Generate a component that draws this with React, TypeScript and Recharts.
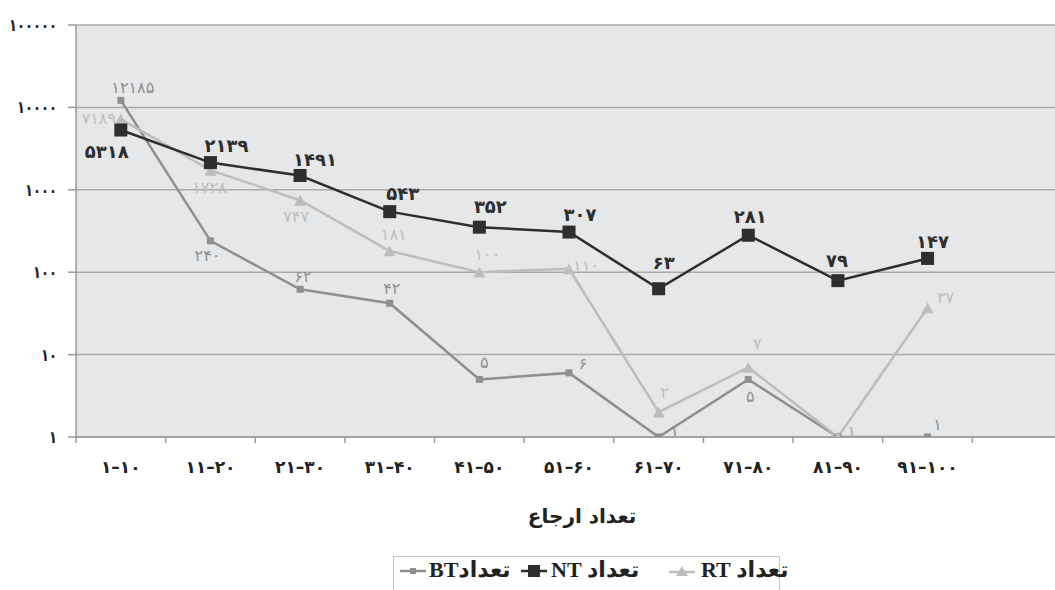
import React from "react";
import {
  ComposedChart,
  Line,
  XAxis,
  YAxis,
  CartesianGrid,
  LabelList,
} from "recharts";

const categories = [
  "1-10",
  "11-20",
  "21-30",
  "31-40",
  "41-50",
  "51-60",
  "61-70",
  "71-80",
  "81-90",
  "91-100",
];
const btValues = [12185, 240, 62, 42, 5, 6, 1, 5, 1, 1];
const ntValues = [5318, 2139, 1491, 543, 352, 307, 63, 281, 79, 147];
const rtValues = [7189, 1728, 747, 181, 100, 110, 2, 7, 1, 37];
const yTicks = [1, 10, 100, 1000, 10000, 100000];

// label nudges (dx, dy) per point, picked to sit like the original
const ntLabelPos = [
  [-14, 22], [16, -17], [15, -16], [13, -18], [11, -21],
  [11, -18], [5, -26], [2, -19], [-1, -20], [5, -17],
];
const rtLabelPos = [
  [-22, -1], [-1, 17], [-4, 16], [4, -16], [8, -18],
  [17, -3], [6, -20], [9, -24], [14, -6], [18, -10],
];
const btLabelPos = [
  [12, -13], [-3, 15], [3, -13], [2, -15], [5, -17],
  [14, -9], [16, -7], [2, 17], [14, -6], [10, -13],
];

const NT_COLOR = "#2e2e2e";
const BT_COLOR = "#8f8f8f";
const RT_COLOR = "#bdbdbd";
const FA_FONT = "'DejaVu Sans', sans-serif";

const toFa = (s: string | number) =>
  String(s)
    .replace(/\d/g, (d) => "۰۱۲۳۴۵۶۷۸۹"[+d])
    .replace("-", "–");

// extra empty slot at the right end, like the original plot
const chartData = [
  ...categories.map((range, i) => ({
    range,
    bt: btValues[i],
    nt: ntValues[i],
    rt: rtValues[i],
  })),
  { range: "", bt: null, nt: null, rt: null },
];

const squareDot = (size: number, color: string) => (props: any) => {
  const { cx, cy, index } = props;
  if (cx == null || cy == null || props.value == null)
    return <g key={`d-${index}`} />;
  return (
    <rect
      key={`d-${index}`}
      x={cx - size / 2}
      y={cy - size / 2}
      width={size}
      height={size}
      fill={color}
    />
  );
};

const triangleDot = (size: number, color: string) => (props: any) => {
  const { cx, cy, index } = props;
  if (cx == null || cy == null || props.value == null)
    return <g key={`d-${index}`} />;
  const h = size * 0.9;
  return (
    <path
      key={`d-${index}`}
      d={`M${cx},${cy - h / 2} L${cx + size / 2},${cy + h / 2} L${cx - size / 2},${cy + h / 2} Z`}
      fill={color}
    />
  );
};

const makeLabel =
  (pos: number[][], color: string, size: number, weight: string | number) =>
  (props: any) => {
    const { x, y, value, index } = props;
    if (value == null || x == null || !pos[index]) return null;
    return (
      <text
        x={x + pos[index][0]}
        y={y + pos[index][1]}
        fill={color}
        fontSize={size}
        fontWeight={weight}
        fontFamily={FA_FONT}
        textAnchor="middle"
        dominantBaseline="central"
      >
        {toFa(value)}
      </text>
    );
  };

const XTick = (props: any) => {
  const { x, y, payload } = props;
  const half = payload && payload.offset ? payload.offset : 44.8;
  return (
    <g>
      <line x1={x - half} x2={x - half} y1={y} y2={y + 6} stroke="#9a9a9a" strokeWidth={1.5} />
      <text
        x={x}
        y={y + 30}
        textAnchor="middle"
        dominantBaseline="central"
        fill="#222"
        fontSize={17}
        fontWeight="bold"
        fontFamily={FA_FONT}
      >
        {toFa(payload.value)}
      </text>
    </g>
  );
};

// y labels squeezed a little, the original digits are narrow
const YTick = (props: any) => {
  const { x, y, payload } = props;
  const label = toFa(payload.value);
  return (
    <text
      x={x}
      y={y}
      textAnchor="end"
      dominantBaseline="central"
      fill="#222"
      fontSize={17}
      fontWeight="bold"
      fontFamily={FA_FONT}
      textLength={label.length * 8}
      lengthAdjust="spacingAndGlyphs"
    >
      {label}
    </text>
  );
};

const legendFont = "'Liberation Serif', 'DejaVu Sans', serif";

export default function App() {
  return (
    <div
      style={{
        position: "absolute",
        left: 0,
        top: 0,
        width: 1055,
        height: 590,
        overflow: "hidden",
        background: "#fff",
      }}
    >
      <ComposedChart
        width={1062}
        height={590}
        data={chartData}
        margin={{ top: 25, right: 0, bottom: 0, left: 0 }}
      >
        <CartesianGrid
          vertical={false}
          stroke="#ababab"
          strokeWidth={1.5}
          fill="#e6e7e8"
        />
        <XAxis
          dataKey="range"
          scale="band"
          height={153}
          tickLine={false}
          tickSize={0}
          tickMargin={0}
          axisLine={{ stroke: "#9a9a9a", strokeWidth: 1.5 }}
          tick={<XTick />}
          interval={0}
        />
        <YAxis
          scale="log"
          domain={[1, 100000]}
          ticks={yTicks}
          allowDataOverflow
          width={76}
          tickSize={8}
          tickMargin={11}
          tickLine={{ stroke: "#9a9a9a", strokeWidth: 1.5 }}
          axisLine={{ stroke: "#9a9a9a", strokeWidth: 1.5 }}
          tick={<YTick />}
        />
        <Line
          dataKey="bt"
          stroke={BT_COLOR}
          strokeWidth={2.5}
          dot={squareDot(7, BT_COLOR)}
          isAnimationActive={false}
        >
          <LabelList dataKey="bt" content={makeLabel(btLabelPos, BT_COLOR, 16, "normal")} />
        </Line>
        <Line
          dataKey="rt"
          stroke={RT_COLOR}
          strokeWidth={2.5}
          dot={triangleDot(12, RT_COLOR)}
          isAnimationActive={false}
        >
          <LabelList dataKey="rt" content={makeLabel(rtLabelPos, RT_COLOR, 16, "normal")} />
        </Line>
        <Line
          dataKey="nt"
          stroke={NT_COLOR}
          strokeWidth={2.5}
          dot={squareDot(13, NT_COLOR)}
          isAnimationActive={false}
        >
          <LabelList dataKey="nt" content={makeLabel(ntLabelPos, NT_COLOR, 18, "bold")} />
        </Line>
      </ComposedChart>

      <div
        style={{
          position: "absolute",
          left: 582,
          top: 516,
          transform: "translate(-50%, -50%)",
          fontFamily: FA_FONT,
          fontSize: 20,
          fontWeight: "bold",
          color: "#222",
          direction: "rtl",
          whiteSpace: "nowrap",
        }}
      >
        تعداد ارجاع
      </div>

      <div
        style={{
          position: "absolute",
          left: 393,
          top: 556,
          width: 385,
          height: 40,
          border: "1.5px solid #c4c4c4",
          background: "#fff",
          fontFamily: legendFont,
          fontSize: 22,
          fontWeight: "bold",
          color: "#222",
        }}
      >
        <svg style={{ position: "absolute", left: 6, top: 6 }} width={26} height={16}>
          <line x1={0} x2={26} y1={8} y2={8} stroke={BT_COLOR} strokeWidth={2.5} />
          <rect x={10} y={5} width={6} height={6} fill={BT_COLOR} />
        </svg>
        <span dir="rtl" style={{ position: "absolute", left: 35, top: 0, whiteSpace: "nowrap" }}>
          تعدادBT
        </span>
        <svg style={{ position: "absolute", left: 127, top: 6 }} width={26} height={16}>
          <line x1={0} x2={26} y1={8} y2={8} stroke={NT_COLOR} strokeWidth={2.5} />
          <rect x={7} y={2} width={12} height={12} fill={NT_COLOR} />
        </svg>
        <span dir="rtl" style={{ position: "absolute", left: 157, top: 0, whiteSpace: "nowrap" }}>
          تعداد NT
        </span>
        <svg style={{ position: "absolute", left: 275, top: 6 }} width={26} height={16}>
          <line x1={0} x2={26} y1={9} y2={9} stroke={RT_COLOR} strokeWidth={2.5} />
          <path d="M13,3 L19,13 L7,13 Z" fill={RT_COLOR} />
        </svg>
        <span dir="rtl" style={{ position: "absolute", left: 307, top: 0, whiteSpace: "nowrap" }}>
          تعداد RT
        </span>
      </div>
    </div>
  );
}
